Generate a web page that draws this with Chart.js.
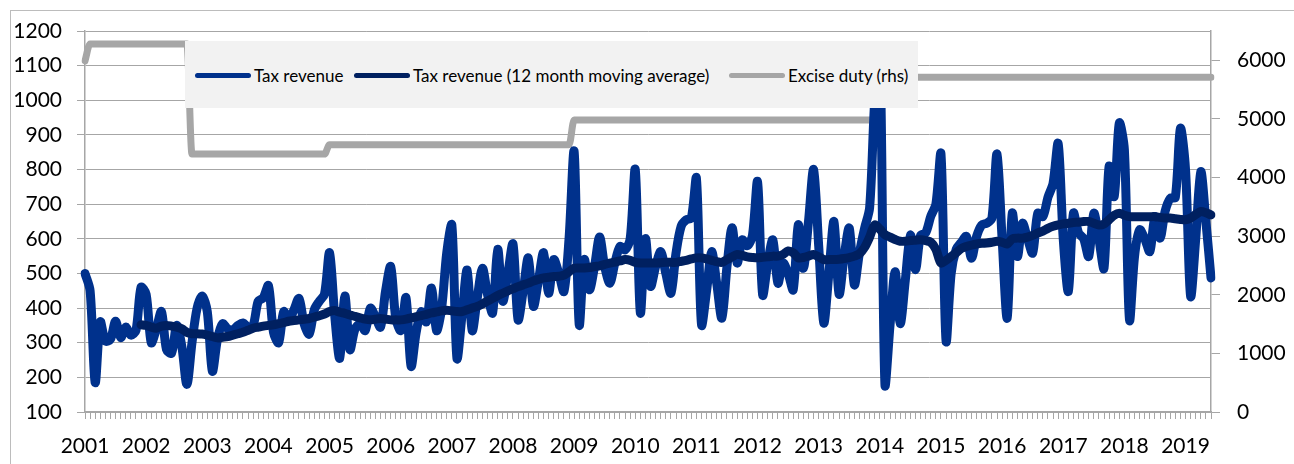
<!DOCTYPE html>
<html>
<head>
<meta charset="utf-8">
<script src="https://cdn.jsdelivr.net/npm/chart.js@4.4.1/dist/chart.umd.min.js"></script>
<style>
  html, body { margin: 0; padding: 0; background: #fff; overflow: hidden; }
  #wrap { position: relative; width: 1294px; height: 464px; }
  #frame { position: absolute; left: 10px; top: 10px; width: 1300px; height: 500px;
           border-left: 1px solid #bcbcbc; border-top: 1px solid #bcbcbc; }
  canvas { position: absolute; left: 0; top: 0; }
  #legend { position: absolute; left: 185px; top: 41px; width: 733px; height: 67px;
            background: #f2f2f2; font-family: Lato, "Noto Sans", sans-serif; font-size: 17px; color: #000; }
  .item { position: absolute; top: 22px; height: 24px; display: flex; align-items: center; white-space: nowrap; }
  .swatch { width: 56px; height: 5px; border-radius: 3px; margin-right: 3px; }
</style>
</head>
<body>
<div id="wrap">
  <div id="frame"></div>
  <canvas id="chart" width="1294" height="464"></canvas>
  <div id="legend">
    <div class="item" style="left:10px"><span class="swatch" style="background:#00318c"></span>Tax revenue</div>
    <div class="item" style="left:169px"><span class="swatch" style="background:#002060"></span>Tax revenue (12 month moving average)</div>
    <div class="item" style="left:544px"><span class="swatch" style="background:#a6a6a6"></span>Excise duty (rhs)</div>
  </div>
</div>
<script>
// Années affichées sur l'axe des x (une étiquette par janvier)
const years = ["2001","2002","2003","2004","2005","2006","2007","2008","2009","2010",
               "2011","2012","2013","2014","2015","2016","2017","2018","2019"];
const monthsInLastYear = 6;

// Recettes fiscales mensuelles (axe gauche)
const taxRevenue = [
  500,450,185,360,305,310,362,315,345,322,335,460,
  440,300,340,390,280,270,350,290,180,300,400,435,
  390,218,310,355,340,337,350,357,345,350,420,430,
  465,330,300,390,365,395,428,355,325,395,420,440,
  560,380,255,435,280,340,355,335,400,375,345,450,
  520,370,335,430,232,330,390,360,458,335,400,560,
  640,255,380,510,335,430,515,440,386,570,420,500,
  585,366,450,545,405,480,560,443,540,500,448,600,
  852,352,540,453,520,605,520,472,530,578,568,600,
  800,386,600,463,520,563,500,443,559,636,655,660,
  775,352,450,563,470,371,520,632,530,597,580,610,
  765,438,530,597,472,530,500,453,641,515,650,800,
  580,357,500,650,440,550,631,467,560,630,690,1000,
  1150,180,350,505,355,480,611,511,610,617,665,700,
  845,305,500,570,590,607,544,607,640,645,660,845,
  600,371,674,549,645,600,559,674,664,720,760,875,
  600,448,674,617,600,549,674,600,515,809,722,934,
  857,366,550,626,600,563,664,602,680,717,720,919,
  800,434,600,794,650,487
];

// Moyenne mobile sur 12 mois
const taxMovingAvg = [
  null,null,null,null,null,null,null,null,null,null,null,352,
  350,345,342,348,350,348,345,340,330,326,326,325,
  322,318,314,316,318,322,326,330,336,342,345,348,
  350,352,355,358,362,364,366,368,370,374,378,383,
  390,393,388,385,380,376,372,368,366,368,370,368,
  366,366,366,368,372,375,378,382,386,389,392,394,
  392,390,390,395,400,405,412,420,428,436,443,450,
  456,462,467,472,478,483,487,489,491,492,495,505,
  515,516,516,517,520,522,526,530,533,536,540,538,
  532,530,530,530,530,531,532,532,532,535,538,542,
  545,545,542,538,534,532,540,548,555,552,548,546,
  545,547,548,550,550,555,565,560,545,546,550,555,
  548,540,540,540,541,543,546,550,557,575,605,640,
  628,612,605,598,593,593,595,596,597,595,590,570,
  530,538,549,560,572,578,582,585,587,588,590,593,
  590,585,600,602,602,605,610,617,622,630,636,640,
  643,645,647,648,650,650,645,640,643,655,668,674,
  668,664,664,664,664,664,664,662,660,660,658,656,
  655,660,670,679,675,669
];

// Droits d'accise (axe droit)
const exciseDuty = [
  5990,6280,6280,6280,6280,6280,6280,6280,6280,6280,6280,6280,
  6280,6280,6280,6280,6280,6280,6280,6280,6280,4400,4400,4400,
  4400,4400,4400,4400,4400,4400,4400,4400,4400,4400,4400,4400,
  4400,4400,4400,4400,4400,4400,4400,4400,4400,4400,4400,4400,
  4560,4560,4560,4560,4560,4560,4560,4560,4560,4560,4560,4560,
  4560,4560,4560,4560,4560,4560,4560,4560,4560,4560,4560,4560,
  4560,4560,4560,4560,4560,4560,4560,4560,4560,4560,4560,4560,
  4560,4560,4560,4560,4560,4560,4560,4560,4560,4560,4560,4560,
  4980,4980,4980,4980,4980,4980,4980,4980,4980,4980,4980,4980,
  4980,4980,4980,4980,4980,4980,4980,4980,4980,4980,4980,4980,
  4980,4980,4980,4980,4980,4980,4980,4980,4980,4980,4980,4980,
  4980,4980,4980,4980,4980,4980,4980,4980,4980,4980,4980,4980,
  4980,4980,4980,4980,4980,4980,4980,4980,4980,4980,4980,4980,
  5710,5710,5710,5710,5710,5710,5710,5710,5710,5710,5710,5710,
  5710,5710,5710,5710,5710,5710,5710,5710,5710,5710,5710,5710,
  5710,5710,5710,5710,5710,5710,5710,5710,5710,5710,5710,5710,
  5710,5710,5710,5710,5710,5710,5710,5710,5710,5710,5710,5710,
  5710,5710,5710,5710,5710,5710,5710,5710,5710,5710,5710,5710,
  5710,5710,5710,5710,5710,5710
];

// Graduations des axes
const leftTickValues = [100, 200, 300, 400, 500, 600, 700, 800, 900, 1000, 1100, 1200];
const rightTickValues = [0, 1000, 2000, 3000, 4000, 5000, 6000];
const rightMax = 6500;

// Une catégorie par mois : "2001-1", "2001-2", ...
const categories = [];
years.forEach(function (y, k) {
  const n = k === years.length - 1 ? monthsInLastYear : 12;
  for (let m = 1; m <= n; m++) categories.push(y + "-" + m);
});

const axisGrey = "#a6a6a6";
const fontFamily = "Lato, 'Noto Sans', sans-serif";

function plain(v) { return String(v); }

new Chart(document.getElementById("chart"), {
  type: "line",
  data: {
    labels: categories,
    datasets: [
      {
        label: "Tax revenue (12 month moving average)",
        data: taxMovingAvg,
        yAxisID: "y",
        borderColor: "#002060",
        borderWidth: 9,
        tension: 0.3,
        order: 0
      },
      {
        label: "Tax revenue",
        data: taxRevenue,
        yAxisID: "y",
        borderColor: "#00318c",
        borderWidth: 9,
        tension: 0.3,
        order: 1
      },
      {
        label: "Excise duty (rhs)",
        data: exciseDuty,
        yAxisID: "y2",
        borderColor: "#a6a6a6",
        borderWidth: 7,
        cubicInterpolationMode: "monotone",
        order: 2
      }
    ]
  },
  options: {
    responsive: false,
    devicePixelRatio: 1,
    animation: false,
    layout: { padding: { top: 31, left: 0, right: 0, bottom: 0 } },
    elements: {
      point: { radius: 0 },
      line: { borderCapStyle: "round", borderJoinStyle: "round" }
    },
    plugins: { legend: { display: false }, tooltip: { enabled: false } },
    scales: {
      x: {
        type: "category",
        offset: false,
        afterFit: function (s) { s.height = 52; },
        grid: { offset: false, drawOnChartArea: false, drawTicks: true, tickLength: 7, color: axisGrey, lineWidth: 1 },
        border: { display: true, color: axisGrey, width: 1.5 },
        ticks: {
          autoSkip: false, maxRotation: 0, minRotation: 0, padding: 15,
          color: "#000", font: { family: fontFamily, size: 21 },
          callback: function (v, i) {
            const lab = categories[i];
            return lab.endsWith("-1") ? lab.split("-")[0] : "";
          }
        }
      },
      y: {
        position: "left",
        min: leftTickValues[0], max: leftTickValues[leftTickValues.length - 1],
        afterFit: function (s) { s.width = 85; },
        afterBuildTicks: function (s) {
          s.ticks = leftTickValues.map(function (v) { return { value: v }; });
        },
        grid: { color: axisGrey, lineWidth: 1, tickLength: 8 },
        border: { display: true, color: axisGrey, width: 1.5 },
        ticks: { padding: 15, color: "#000", font: { family: fontFamily, size: 21 }, callback: plain }
      },
      y2: {
        position: "right",
        min: rightTickValues[0], max: rightMax,
        afterFit: function (s) { s.width = 83; },
        afterBuildTicks: function (s) {
          s.ticks = rightTickValues.map(function (v) { return { value: v }; });
        },
        grid: { drawOnChartArea: false, color: axisGrey, lineWidth: 1, tickLength: 9 },
        border: { display: true, color: axisGrey, width: 1.5 },
        ticks: { padding: 17, color: "#000", font: { family: fontFamily, size: 21 }, callback: plain }
      }
    }
  }
});
</script>
</body>
</html>
